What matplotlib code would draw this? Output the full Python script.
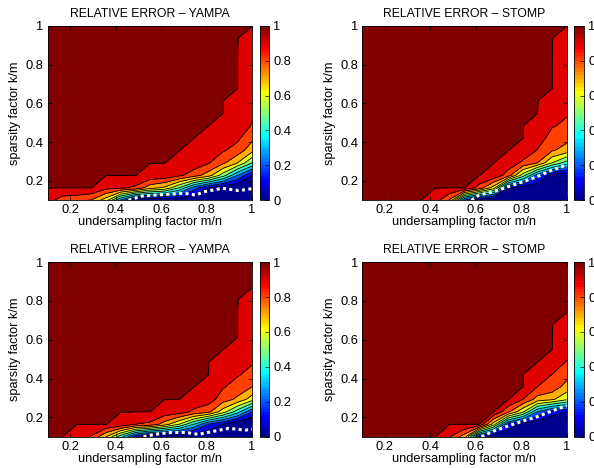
import numpy as np
import matplotlib
matplotlib.use('Agg')
import matplotlib.pyplot as plt
from matplotlib.colors import ListedColormap, Normalize
from matplotlib.cm import ScalarMappable

plt.rcParams['font.family'] = ['Liberation Sans', 'DejaVu Sans']

# grid: undersampling m/n along x, sparsity k/m along y
m_over_n = [0.1, 0.1643, 0.2286, 0.2929, 0.3571, 0.4214, 0.4857, 0.55,
            0.6143, 0.6786, 0.7429, 0.8071, 0.8714, 0.9357, 1.0]
k_over_m = [0.1, 0.1643, 0.2286, 0.2929, 0.3571, 0.4214, 0.4857, 0.55,
            0.6143, 0.6786, 0.7429, 0.8071, 0.8714, 0.9357, 1.0]

# relative error for each m/n column, from k/m = 0.1 upwards;
# every grid point above the listed ones sits at 1 (failure)
yampa_top = [
    [0.94],
    [0.85],
    [0.83],
    [0.79],
    [0.64, 0.93],
    [0.28, 0.92],
    [0.0, 0.88],
    [0.0, 0.74, 0.98],
    [0.0, 0.68, 0.97],
    [0.0, 0.5, 0.92, 0.98],
    [0.0, 0.25, 0.85, 0.96, 0.98],
    [0.0, 0.1, 0.75, 0.91, 0.95, 0.98],
    [0.0, 0.02, 0.55, 0.82, 0.91, 0.95, 0.98],
    [0.0, 0.0, 0.3, 0.7, 0.86, 0.92, 0.95, 0.97, 0.98],
    [0.0, 0.0, 0.1, 0.5, 0.73, 0.83, 0.895, 0.91, 0.92, 0.93, 0.94, 0.95, 0.96, 0.98],
]
stomp_top = [
    [], [], [], [], [],
    [0.95],
    [0.78],
    [0.2],
    [0.0, 0.86],
    [0.0, 0.65, 0.98],
    [0.0, 0.1, 0.85, 0.96],
    [0.0, 0.05, 0.55, 0.88, 0.97],
    [0.0, 0.01, 0.25, 0.8, 0.895, 0.95, 0.98],
    [0.0, 0.0, 0.06, 0.6, 0.81, 0.86, 0.91, 0.95, 0.98],
    [0.0, 0.0, 0.0, 0.45, 0.76, 0.83, 0.88, 0.91, 0.92, 0.93, 0.94, 0.95, 0.96, 0.98],
]
yampa_bottom = [
    [], [],
    [0.95],
    [0.89],
    [0.7],
    [0.44, 0.98],
    [0.15, 0.9],
    [0.0, 0.88],
    [0.0, 0.75, 0.97],
    [0.0, 0.6, 0.95],
    [0.0, 0.4, 0.88, 0.97],
    [0.0, 0.2, 0.83, 0.95, 0.98],
    [0.0, 0.1, 0.65, 0.85, 0.91, 0.95, 0.98],
    [0.0, 0.0, 0.45, 0.78, 0.86, 0.91, 0.95, 0.98],
    [0.0, 0.0, 0.2, 0.65, 0.8, 0.87, 0.91, 0.93, 0.94, 0.95, 0.96, 0.98],
]
stomp_bottom = [
    [], [], [], [], [], [],
    [0.9],
    [0.75],
    [0.15],
    [0.0, 0.65],
    [0.0, 0.18, 0.82],
    [0.0, 0.05, 0.62, 0.9],
    [0.0, 0.02, 0.3, 0.76, 0.9, 0.96],
    [0.0, 0.0, 0.15, 0.72, 0.86, 0.9, 0.96],
    [0.0, 0.0, 0.1, 0.62, 0.76, 0.84, 0.895, 0.93, 0.96, 0.98],
]

# phase transition curves (white dotted)
yampa_top_curve_x = [0.456, 0.515, 0.573, 0.647, 0.706, 0.750, 0.794, 0.868, 0.941, 1.0]
yampa_top_curve_y = [0.100, 0.122, 0.127, 0.132, 0.136, 0.127, 0.145, 0.162, 0.150, 0.160]
stomp_top_curve_x = [0.581, 0.615, 0.679, 0.742, 0.808, 0.871, 0.936, 1.0]
stomp_top_curve_y = [0.100, 0.127, 0.145, 0.170, 0.196, 0.222, 0.256, 0.282]
yampa_bottom_curve_x = [0.522, 0.573, 0.647, 0.706, 0.764, 0.823, 0.897, 0.970, 1.0]
yampa_bottom_curve_y = [0.100, 0.112, 0.122, 0.122, 0.112, 0.126, 0.143, 0.134, 0.138]
stomp_bottom_curve_x = [0.625, 0.679, 0.742, 0.808, 0.871, 0.936, 1.0]
stomp_bottom_curve_y = [0.100, 0.129, 0.155, 0.181, 0.203, 0.233, 0.260]

ticks = [0.2, 0.4, 0.6, 0.8, 1.0]
tick_labels = ['0.2', '0.4', '0.6', '0.8', '1']
cbar_ticks = [0, 0.2, 0.4, 0.6, 0.8, 1.0]
cbar_labels = ['0', '0.2', '0.4', '0.6', '0.8', '1']


def matlab_jet(n=64):
    m = n // 4
    u = np.concatenate([np.arange(1, m + 1) / m, np.ones(m - 1), np.arange(m, 0, -1) / m])
    g = int(np.ceil(m / 2)) - (n % 4 == 1) + np.arange(1, len(u) + 1)
    r = g + m
    b = g - m
    J = np.zeros((n, 3))
    J[r[r <= n] - 1, 0] = u[r <= n]
    J[g[g <= n] - 1, 1] = u[g <= n]
    J[b[b >= 1] - 1, 2] = u[b >= 1]
    return ListedColormap(J)


def error_grid(columns):
    z = np.ones((len(k_over_m), len(m_over_n)))
    for j, col in enumerate(columns):
        z[:len(col), j] = col
    return z


cmap = matlab_jet(64)
levels = [-0.01, 0.1, 0.2, 0.3, 0.4, 0.5, 0.6, 0.7, 0.8, 0.9, 0.999, 1.01]
fill_colors = [cmap(v) for v in [0, 0.1, 0.2, 0.3, 0.4, 0.5, 0.6, 0.7, 0.8, 0.9, 1.0]]

fig = plt.figure(figsize=(5.94, 4.68), dpi=100)

panels = [
    ('RELATIVE ERROR \u2013 YAMPA', yampa_top, yampa_top_curve_x, yampa_top_curve_y, 0.0803, 0.5720),
    ('RELATIVE ERROR \u2013 STOMP', stomp_top, stomp_top_curve_x, stomp_top_curve_y, 0.6099, 0.5720),
    ('RELATIVE ERROR \u2013 YAMPA', yampa_bottom, yampa_bottom_curve_x, yampa_bottom_curve_y, 0.0803, 0.0669),
    ('RELATIVE ERROR \u2013 STOMP', stomp_bottom, stomp_bottom_curve_x, stomp_bottom_curve_y, 0.6099, 0.0669),
]

X, Y = np.meshgrid(m_over_n, k_over_m)
for title, columns, cx, cy, left, bottom in panels:
    ax = fig.add_axes([left, bottom, 0.3440, 0.3730])
    Z = error_grid(columns)
    ax.contourf(X, Y, Z, levels=levels, colors=fill_colors)
    ax.contour(X, Y, Z, levels=levels[1:-1], colors='k', linewidths=0.6)
    ax.plot(cx, cy, color='white', lw=2.2, linestyle=(0, (1.0, 1.1)))
    ax.set_xlim(0.1, 1.0)
    ax.set_ylim(0.1, 1.0)
    ax.set_xticks(ticks)
    ax.set_xticklabels(tick_labels)
    ax.set_yticks(ticks)
    ax.set_yticklabels(tick_labels)
    ax.tick_params(direction='in', top=True, right=True, length=3, width=0.5,
                   labelsize=9.3, pad=3)
    for s in ax.spines.values():
        s.set_linewidth(0.6)
    ax.set_title(title, fontsize=8.8, pad=6.5)
    ax.set_xlabel('undersampling factor m/n', fontsize=9.2, labelpad=0)
    ax.set_ylabel('sparsity factor k/m', fontsize=9.2, labelpad=3)

    cax = fig.add_axes([left + 0.3569, bottom, 0.0162, 0.3730])
    cb = fig.colorbar(ScalarMappable(norm=Normalize(0, 1), cmap=cmap), cax=cax,
                      ticks=cbar_ticks)
    cb.set_ticklabels(cbar_labels)
    cb.outline.set_linewidth(0.6)
    cax.tick_params(direction='in', length=3, width=0.5, labelsize=9.3, pad=3)

fig.savefig('out.png', dpi=100)
